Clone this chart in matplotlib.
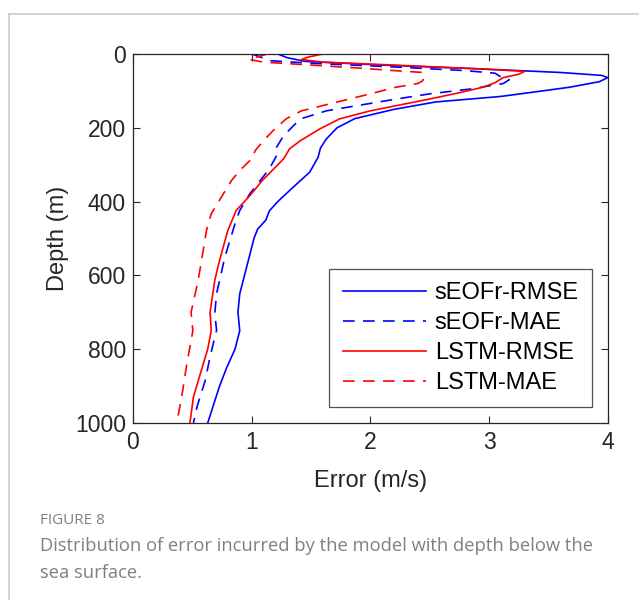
import matplotlib.pyplot as plt
from matplotlib.lines import Line2D

# depth profiles (depth in m, error in m/s)
seofr_rmse_depth = [0, 10, 20, 30, 40, 50, 58, 64, 75, 90, 100, 115, 130, 150, 175, 200, 230, 255, 280,
                    320, 370, 400, 425, 450, 475, 500, 600, 650, 700, 750, 800, 850, 900, 950, 1000]
seofr_rmse = [1.22, 1.3, 1.45, 2.1, 2.9, 3.6, 3.95, 4.0, 3.93, 3.68, 3.45, 3.1, 2.55, 2.2, 1.87, 1.72, 1.63, 1.58, 1.56,
              1.49, 1.32, 1.22, 1.15, 1.12, 1.05, 1.02, 0.94, 0.9, 0.885, 0.9, 0.86, 0.79, 0.73, 0.68, 0.63]

seofr_mae_depth = [0, 5, 18, 25, 35, 45, 52, 62, 70, 80, 95, 108, 122, 154, 176, 221, 253, 270, 311,
                   379, 424, 460, 550, 649, 703, 749, 820, 884, 956, 1000]
seofr_mae = [1.0, 1.05, 1.15, 1.5, 2.2, 2.8, 3.05, 3.1, 3.17, 3.12, 2.84, 2.5, 2.22, 1.63, 1.41, 1.27, 1.21, 1.22, 1.15,
             0.985, 0.9, 0.86, 0.775, 0.705, 0.69, 0.705, 0.65, 0.61, 0.54, 0.51]

lstm_rmse_depth = [0, 8, 15, 22, 30, 40, 47, 55, 64, 78, 90, 105, 122, 154, 176, 203, 235, 257, 284,
                   343, 384, 424, 478, 559, 613, 700, 750, 800, 875, 930, 1000]
lstm_rmse = [1.6, 1.48, 1.42, 1.6, 2.2, 2.9, 3.3, 3.25, 3.12, 3.05, 2.95, 2.75, 2.5, 2.0, 1.74, 1.575, 1.41, 1.32, 1.27,
             1.09, 0.985, 0.87, 0.8, 0.73, 0.69, 0.65, 0.66, 0.63, 0.56, 0.51, 0.48]

lstm_mae_depth = [0, 8, 15, 22, 30, 38, 45, 50, 60, 73, 80, 91, 108, 131, 154, 176, 208, 235, 262, 284,
                  316, 343, 433, 478, 537, 613, 700, 750, 848, 911, 1000]
lstm_mae = [1.13, 1.05, 0.98, 1.1, 1.5, 1.9, 2.2, 2.44, 2.46, 2.44, 2.4, 2.2, 2.0, 1.71, 1.42, 1.29, 1.18, 1.1, 1.03, 1.0,
            0.9, 0.83, 0.66, 0.62, 0.59, 0.55, 0.49, 0.505, 0.45, 0.42, 0.37]

plt.rcParams['font.family'] = ['Liberation Sans', 'DejaVu Sans']

fig = plt.figure(figsize=(6.39, 6.0), dpi=100)
ax = fig.add_axes([0.208, 0.295, 0.743, 0.615])

ax.plot(seofr_rmse, seofr_rmse_depth, color='#0000ff', lw=1.2, label='sEOFr-RMSE')
ax.plot(seofr_mae, seofr_mae_depth, color='#0000ff', lw=1.2, dashes=(7, 5), label='sEOFr-MAE')
ax.plot(lstm_rmse, lstm_rmse_depth, color='#ff0000', lw=1.2, label='LSTM-RMSE')
ax.plot(lstm_mae, lstm_mae_depth, color='#ff0000', lw=1.2, dashes=(7, 5), label='LSTM-MAE')

ax.set_xlim(0, 4)
ax.set_ylim(1000, 0)
ax.set_xticks([0, 1, 2, 3, 4])
ax.set_yticks([0, 200, 400, 600, 800, 1000])
ax.tick_params(direction='in', length=5, width=0.8, top=True, right=True,
               labelsize=16.5, colors='#262626')
ax.tick_params(axis='x', pad=6)
ax.tick_params(axis='y', pad=5)
for s in ax.spines.values():
    s.set_color('#262626')
    s.set_linewidth(0.9)
ax.set_xlabel('Error (m/s)', fontsize=17, color='#262626', labelpad=11)
ax.set_ylabel('Depth (m)', fontsize=17, color='#262626', labelpad=4)

leg = ax.legend(loc='lower right', bbox_to_anchor=(0.967, 0.043), fontsize=17, frameon=True,
                fancybox=False, handlelength=3.55, handletextpad=0.35, borderpad=0.56,
                labelspacing=0.335, borderaxespad=0)
leg.get_frame().set_edgecolor('#262626')
leg.get_frame().set_linewidth(0.9)

# card border around the figure
fig.add_artist(Line2D([9 / 639, 9 / 639], [0, 1 - 14 / 600], color='#cccccc', lw=1.2))
fig.add_artist(Line2D([9 / 639, 1], [1 - 14 / 600, 1 - 14 / 600], color='#cccccc', lw=1.2))

fig.text(40 / 639, 1 - 520 / 600, 'FIGURE 8', fontsize=11, color='#808080',
         family=['Open Sans', 'DejaVu Sans'], va='center')
fig.text(40 / 639, 1 - 546 / 600, 'Distribution of error incurred by the model with depth below the',
         fontsize=13.2, color='#808080', family=['Open Sans', 'DejaVu Sans'], va='center')
fig.text(40 / 639, 1 - 573 / 600, 'sea surface.', fontsize=13.2, color='#808080',
         family=['Open Sans', 'DejaVu Sans'], va='center')

fig.savefig('out.png', dpi=100)
